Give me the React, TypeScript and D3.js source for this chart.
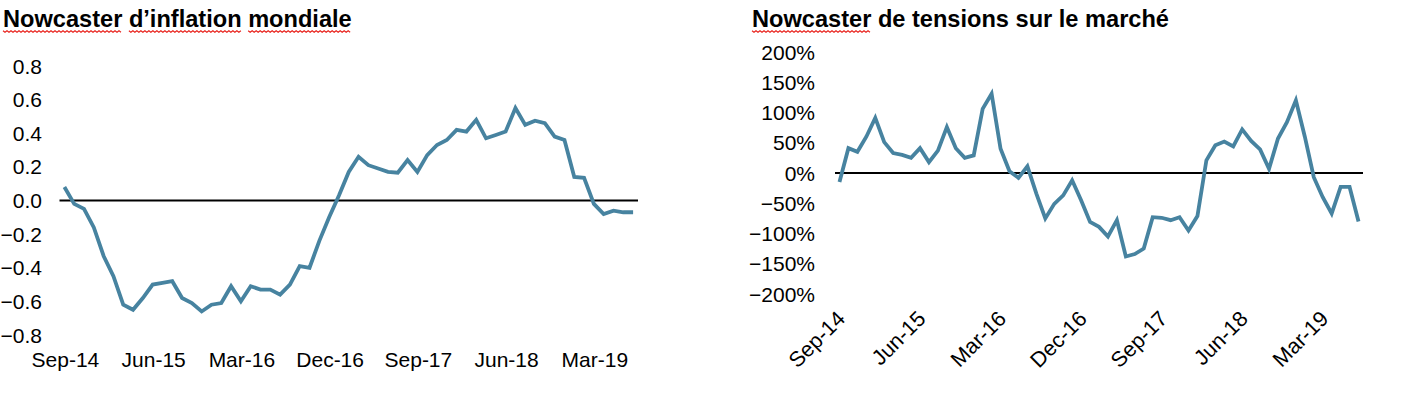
import * as d3 from 'd3';
import { useRef, useEffect } from 'react';

// monthly values, Sep-14 .. Jul-19
const inflationNowcast = [
  0.08, -0.02, -0.05, -0.16, -0.33, -0.45, -0.62, -0.65, -0.58, -0.5, -0.49, -0.48,
  -0.58, -0.61, -0.66, -0.62, -0.61, -0.51, -0.6, -0.51, -0.53, -0.53, -0.56, -0.5,
  -0.39, -0.4, -0.24, -0.1, 0.03, 0.17, 0.26, 0.21, 0.19, 0.17, 0.165, 0.24,
  0.17, 0.27, 0.33, 0.36, 0.42, 0.41, 0.48, 0.37, 0.39, 0.41, 0.55, 0.45,
  0.475, 0.46, 0.38, 0.36, 0.14, 0.135, -0.02, -0.08, -0.06, -0.07, -0.07,
];

const tensionNowcast = [
  -0.15, 0.41, 0.35, 0.6, 0.91, 0.51, 0.33, 0.3, 0.25, 0.41, 0.18, 0.37,
  0.76, 0.41, 0.25, 0.29, 1.06, 1.31, 0.4, 0.03, -0.08, 0.11, -0.34, -0.75,
  -0.51, -0.37, -0.12, -0.45, -0.81, -0.89, -1.05, -0.78, -1.38, -1.34, -1.25, -0.73,
  -0.74, -0.78, -0.73, -0.95, -0.71, 0.21, 0.46, 0.52, 0.44, 0.72, 0.53, 0.39,
  0.07, 0.57, 0.84, 1.2, 0.6, -0.07, -0.4, -0.67, -0.23, -0.23, -0.8,
];

const months = d3.timeMonths(new Date(2014, 8, 1), new Date(2019, 7, 1)).map(d3.timeFormat('%b-%y'));
const xTickLabels = ['Sep-14', 'Jun-15', 'Mar-16', 'Dec-16', 'Sep-17', 'Jun-18', 'Mar-19'];
const inflationTicks = [0.8, 0.6, 0.4, 0.2, 0, -0.2, -0.4, -0.6, -0.8];
const tensionTicks = [2, 1.5, 1, 0.5, 0, -0.5, -1, -1.5, -2];

const FONT = '"Liberation Sans", Arial, sans-serif';
const LINE_COLOR = '#4783A0';

const App = () => {
  const svgRef = useRef<SVGSVGElement>(null);

  useEffect(() => {
    const svg = d3.select(svgRef.current);
    svg.selectAll('*').remove();
    svg.style('font-family', FONT);

    // titles, with the spell-check squiggles under flagged words
    const drawTitle = (x: number, text: string, flagged: string[]) => {
      const t = svg
        .append('text')
        .attr('x', x)
        .attr('y', 27)
        .attr('font-size', 23.6)
        .attr('font-weight', 'bold')
        .attr('fill', '#000')
        .text(text);
      const node = t.node() as SVGTextElement;
      flagged.forEach((w) => {
        const start = text.indexOf(w);
        const x0 = x + (start > 0 ? node.getSubStringLength(0, start) : 0);
        const len = node.getSubStringLength(start, w.length);
        const pts: [number, number][] = [];
        for (let px = 0; px <= len; px += 2) pts.push([x0 + px, 30.8 + ((px / 2) % 2 === 0 ? 0 : 1.5)]);
        svg
          .append('path')
          .attr('d', d3.line()(pts))
          .attr('fill', 'none')
          .attr('stroke', '#E8201A')
          .attr('stroke-width', 1.1);
      });
    };
    drawTitle(3, 'Nowcaster d’inflation mondiale', ['Nowcaster', 'd’inflation', 'mondiale']);
    drawTitle(752, 'Nowcaster de tensions sur le marché', ['Nowcaster']);

    const drawPanel = (
      values: number[],
      xRange: [number, number],
      yDomain: [number, number],
      yRange: [number, number],
      yTicks: number[],
      yLabelX: number,
      fmt: (v: number) => string,
      rotated: boolean
    ) => {
      const x = d3.scaleBand<string>().domain(months).range(xRange);
      const y = d3.scaleLinear().domain(yDomain).range(yRange);
      const g = svg.append('g');

      g.selectAll('.ytick')
        .data(yTicks)
        .join('text')
        .attr('class', 'ytick')
        .attr('x', yLabelX)
        .attr('y', (d) => y(d))
        .attr('dy', '0.36em')
        .attr('text-anchor', 'end')
        .attr('font-size', 21)
        .attr('fill', '#000')
        .text(fmt);

      const xc = (m: string) => (x(m) || 0) + x.bandwidth() / 2;

      if (rotated) {
        g.selectAll('.xtick')
          .data(xTickLabels)
          .join('text')
          .attr('class', 'xtick')
          .attr('transform', (d) => `translate(${xc(d) + 7},${320}) rotate(-45)`)
          .attr('text-anchor', 'end')
          .attr('font-size', 21.5)
          .attr('fill', '#000')
          .text((d) => d);
      } else {
        g.selectAll('.xtick')
          .data(xTickLabels)
          .join('text')
          .attr('class', 'xtick')
          .attr('x', (d) => xc(d) + 1)
          .attr('y', 367)
          .attr('text-anchor', 'middle')
          .attr('font-size', 21)
          .attr('fill', '#000')
          .text((d) => d);
      }

      g.append('line')
        .attr('x1', xRange[0])
        .attr('x2', xRange[1])
        .attr('y1', y(0))
        .attr('y2', y(0))
        .attr('stroke', '#000')
        .attr('stroke-width', 2);

      const line = d3
        .line<number>()
        .x((_, i) => xc(months[i]))
        .y((d) => y(d));

      g.append('path')
        .datum(values)
        .attr('d', line)
        .attr('fill', 'none')
        .attr('stroke', LINE_COLOR)
        .attr('stroke-width', 3.8)
        .attr('stroke-linejoin', 'miter');
    };

    drawPanel(
      inflationNowcast,
      [59.5, 638],
      [-0.8, 0.8],
      [335, 66],
      inflationTicks,
      42,
      d3.format('.1f'),
      false
    );
    drawPanel(
      tensionNowcast,
      [835, 1363],
      [-2, 2],
      [294, 52],
      tensionTicks,
      815,
      d3.format('.0%'),
      true
    );
  }, []);

  return (
    <svg
      ref={svgRef}
      width={1407}
      height={399}
      style={{ position: 'absolute', left: 0, top: 0, background: '#fff' }}
    />
  );
};

export default App;
